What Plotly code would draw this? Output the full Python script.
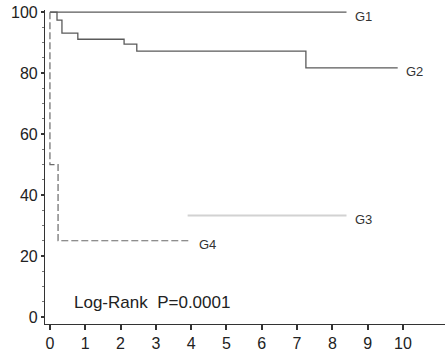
import plotly.graph_objects as go

# Data
g1_x = [0, 8.4]
g1_y = [100, 100]
g2_x = [0, 0.2, 0.34, 0.79, 2.1, 2.46, 7.25, 9.85]
g2_y = [100, 97.4, 93.1, 91.1, 89.5, 87.2, 81.7, 81.7]
g3_x = [3.9, 8.4]
g3_y = [33.3, 33.3]
g4_x = [0, 0, 0.23, 4.0]
g4_y = [100, 50, 25, 25]
group_labels = ["G1", "G2", "G3", "G4"]
x_ticks = list(range(0, 11))
y_ticks = [0, 20, 40, 60, 80, 100]
annotation_text = "Log-Rank  P=0.0001"

FONT = "Liberation Sans, Arial, sans-serif"

fig = go.Figure()
series = [
    (g1_x, g1_y, dict(color="#5a5a5a", width=1.3)),
    (g2_x, g2_y, dict(color="#5a5a5a", width=1.3)),
    (g3_x, g3_y, dict(color="#d2d2d2", width=2)),
    (g4_x, g4_y, dict(color="#6a6a6a", width=1.2, dash="7px,3px")),
]
for (xs, ys, ln) in series:
    fig.add_trace(go.Scatter(x=xs, y=ys, mode="lines", line=dict(shape="hv", **ln),
                             showlegend=False, hoverinfo="skip", cliponaxis=False))

for lab, (xs, ys, _) in zip(group_labels, series):
    fig.add_annotation(x=xs[-1], y=ys[-1], text=lab, showarrow=False,
                       xanchor="left", yanchor="middle", xshift=6, yshift=-4,
                       font=dict(family=FONT, size=13, color="#333"))

fig.add_annotation(x=0.62, y=4.9, text=annotation_text, showarrow=False,
                   xanchor="left", yanchor="middle",
                   font=dict(family=FONT, size=17, color="#222"))

fig.update_layout(
    width=445, height=354,
    margin=dict(l=45, r=0, t=10, b=30, autoexpand=False),
    paper_bgcolor="white", plot_bgcolor="white",
    font=dict(family=FONT, size=16, color="#222"),
)
fig.update_xaxes(range=[-0.14, 11.19], tickvals=x_ticks, showgrid=False, zeroline=False,
                 automargin=False,
                 showline=True, linecolor="#333", linewidth=1.2,
                 ticks="outside", ticklen=5, tickwidth=2, tickcolor="#333",
                 tickfont=dict(size=16, family=FONT))
fig.update_yaxes(range=[-2.3, 100.7], tickvals=y_ticks, showgrid=False, zeroline=False,
                 automargin=False,
                 showline=True, linecolor="#333", linewidth=1.2,
                 ticks="outside", ticklen=3, tickwidth=1.5, tickcolor="#333",
                 ticklabelstandoff=0,
                 minor=dict(dtick=5, ticks="outside", ticklen=2, tickcolor="#777", tickwidth=1),
                 tickfont=dict(size=16, family=FONT))

fig.write_html("out.html", config={"displayModeBar": False})

# remove the default page margin so the figure sits at the window's top-left corner
with open("out.html", encoding="utf-8") as f:
    html = f.read()
html = html.replace("<body>", '<body style="margin:0;padding:0;overflow:hidden">', 1)
with open("out.html", "w", encoding="utf-8") as f:
    f.write(html)
